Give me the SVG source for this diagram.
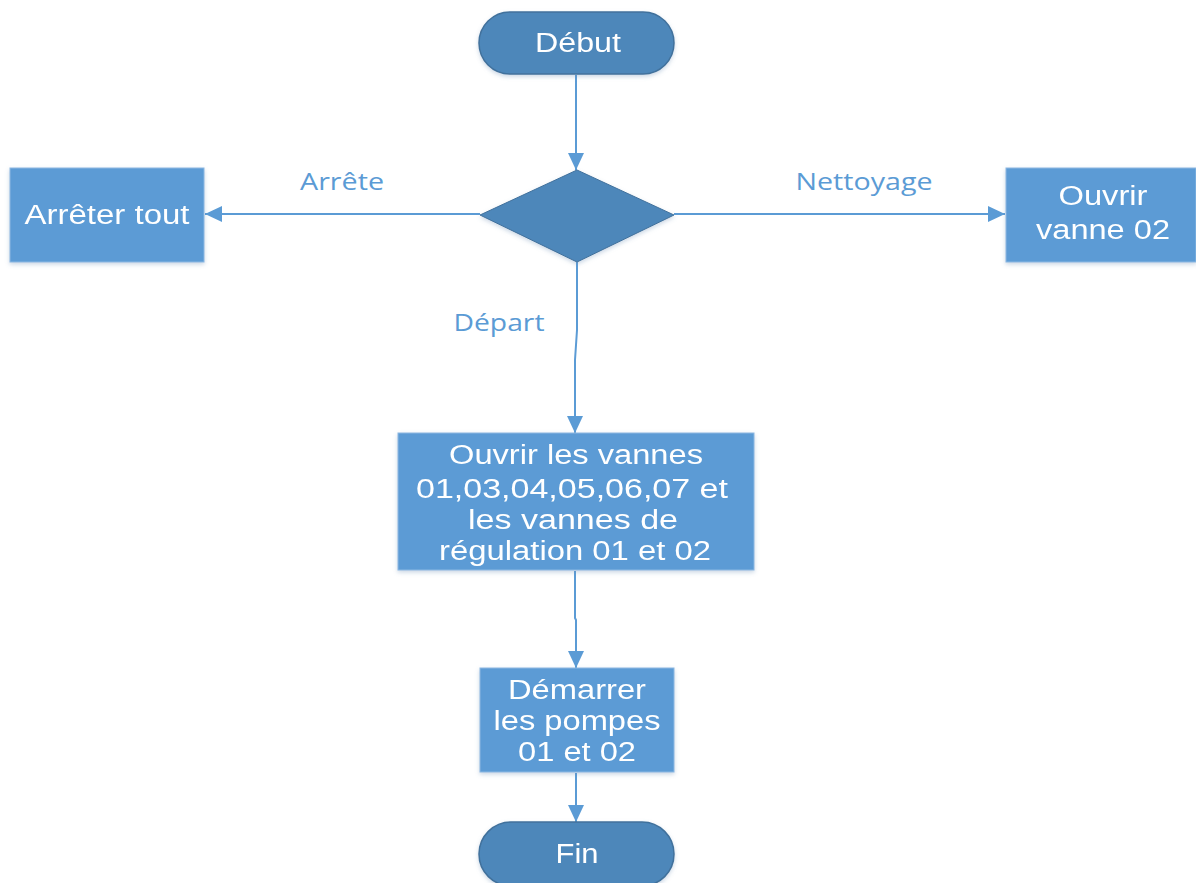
<svg xmlns="http://www.w3.org/2000/svg" width="1196" height="883" viewBox="0 0 1196 883">
  <style>
    .term { fill: #4e87ba; stroke: #41719c; stroke-width: 1.5; }
    .proc { fill: #5b9bd5; stroke: #8db8e2; stroke-width: 1; }
    .dec  { fill: #4e87ba; stroke: #41719c; stroke-width: 1; }
    .txt  { font-family: "Liberation Sans", Arial, sans-serif; font-size: 27px; fill: #ffffff; text-anchor: middle; }
    .lbl  { font-family: "Open Sans", "Liberation Sans", sans-serif; font-size: 23px; fill: #5b9bd5; text-anchor: middle; }
    .conn { fill: none; stroke: #5b9bd5; stroke-width: 2; }
  </style>
  <defs>
    <marker id="arrow" viewBox="0 0 17 16" refX="17" refY="8" markerWidth="17" markerHeight="16" markerUnits="userSpaceOnUse" orient="auto">
      <path d="M0,0 L17,8 L0,16 Z" fill="#5b9bd5"/>
    </marker>
    <filter id="shadow" x="-10%" y="-10%" width="120%" height="130%">
      <feDropShadow dx="0" dy="2" stdDeviation="2" flood-color="#6a8fb5" flood-opacity="0.35"/>
    </filter>
  </defs>
  <rect width="1196" height="883" fill="#ffffff"/>

  <g id="connectors">
    <path class="conn" d="M576,75 L576,170" marker-end="url(#arrow)"/>
    <path class="conn" d="M480,214 L205,214" marker-end="url(#arrow)"/>
    <path class="conn" d="M674,214 L1005,214" marker-end="url(#arrow)"/>
    <path class="conn" d="M577,262 L577,330 L575,360 L575,433" marker-end="url(#arrow)"/>
    <path class="conn" d="M575,571 L575,618 L576,620 L576,668" marker-end="url(#arrow)"/>
    <path class="conn" d="M576,773 L576,822" marker-end="url(#arrow)"/>
    <text class="lbl" x="342" y="190" textLength="84" lengthAdjust="spacingAndGlyphs">Arrête</text>
    <text class="lbl" x="864" y="190" textLength="137" lengthAdjust="spacingAndGlyphs">Nettoyage</text>
    <text class="lbl" x="499" y="331" textLength="91" lengthAdjust="spacingAndGlyphs">Départ</text>
  </g>

  <g id="debut" filter="url(#shadow)">
    <rect class="term" x="479" y="12" width="195" height="62" rx="31"/>
    <text class="txt" x="578" y="52" textLength="86" lengthAdjust="spacingAndGlyphs">Début</text>
  </g>

  <g id="decision" filter="url(#shadow)">
    <polygon class="dec" points="577,170 674,215 577,262 480,215"/>
  </g>

  <g id="arreter-tout" filter="url(#shadow)">
    <rect class="proc" x="10" y="168" width="194" height="94"/>
    <text class="txt" x="107" y="224" textLength="165" lengthAdjust="spacingAndGlyphs">Arrêter tout</text>
  </g>

  <g id="ouvrir-vanne-02" filter="url(#shadow)">
    <rect class="proc" x="1006" y="168" width="190" height="94"/>
    <text class="txt" x="1103" y="205" textLength="89" lengthAdjust="spacingAndGlyphs">Ouvrir</text>
    <text class="txt" x="1103" y="239" textLength="134" lengthAdjust="spacingAndGlyphs">vanne 02</text>
  </g>

  <g id="ouvrir-vannes" filter="url(#shadow)">
    <rect class="proc" x="398" y="433" width="356" height="137"/>
    <text class="txt" x="576" y="464" textLength="254" lengthAdjust="spacingAndGlyphs">Ouvrir les vannes</text>
    <text class="txt" x="572" y="498" textLength="312" lengthAdjust="spacingAndGlyphs">01,03,04,05,06,07 et</text>
    <text class="txt" x="573" y="529" textLength="210" lengthAdjust="spacingAndGlyphs">les vannes de</text>
    <text class="txt" x="575" y="560" textLength="272" lengthAdjust="spacingAndGlyphs">régulation 01 et 02</text>
  </g>

  <g id="demarrer-pompes" filter="url(#shadow)">
    <rect class="proc" x="480" y="668" width="194" height="104"/>
    <text class="txt" x="577" y="699" textLength="138" lengthAdjust="spacingAndGlyphs">Démarrer</text>
    <text class="txt" x="577" y="730" textLength="167" lengthAdjust="spacingAndGlyphs">les pompes</text>
    <text class="txt" x="577" y="761" textLength="118" lengthAdjust="spacingAndGlyphs">01 et 02</text>
  </g>

  <g id="fin" filter="url(#shadow)">
    <rect class="term" x="479" y="822" width="195" height="64" rx="32"/>
    <text class="txt" x="577" y="863" textLength="43" lengthAdjust="spacingAndGlyphs">Fin</text>
  </g>
</svg>
